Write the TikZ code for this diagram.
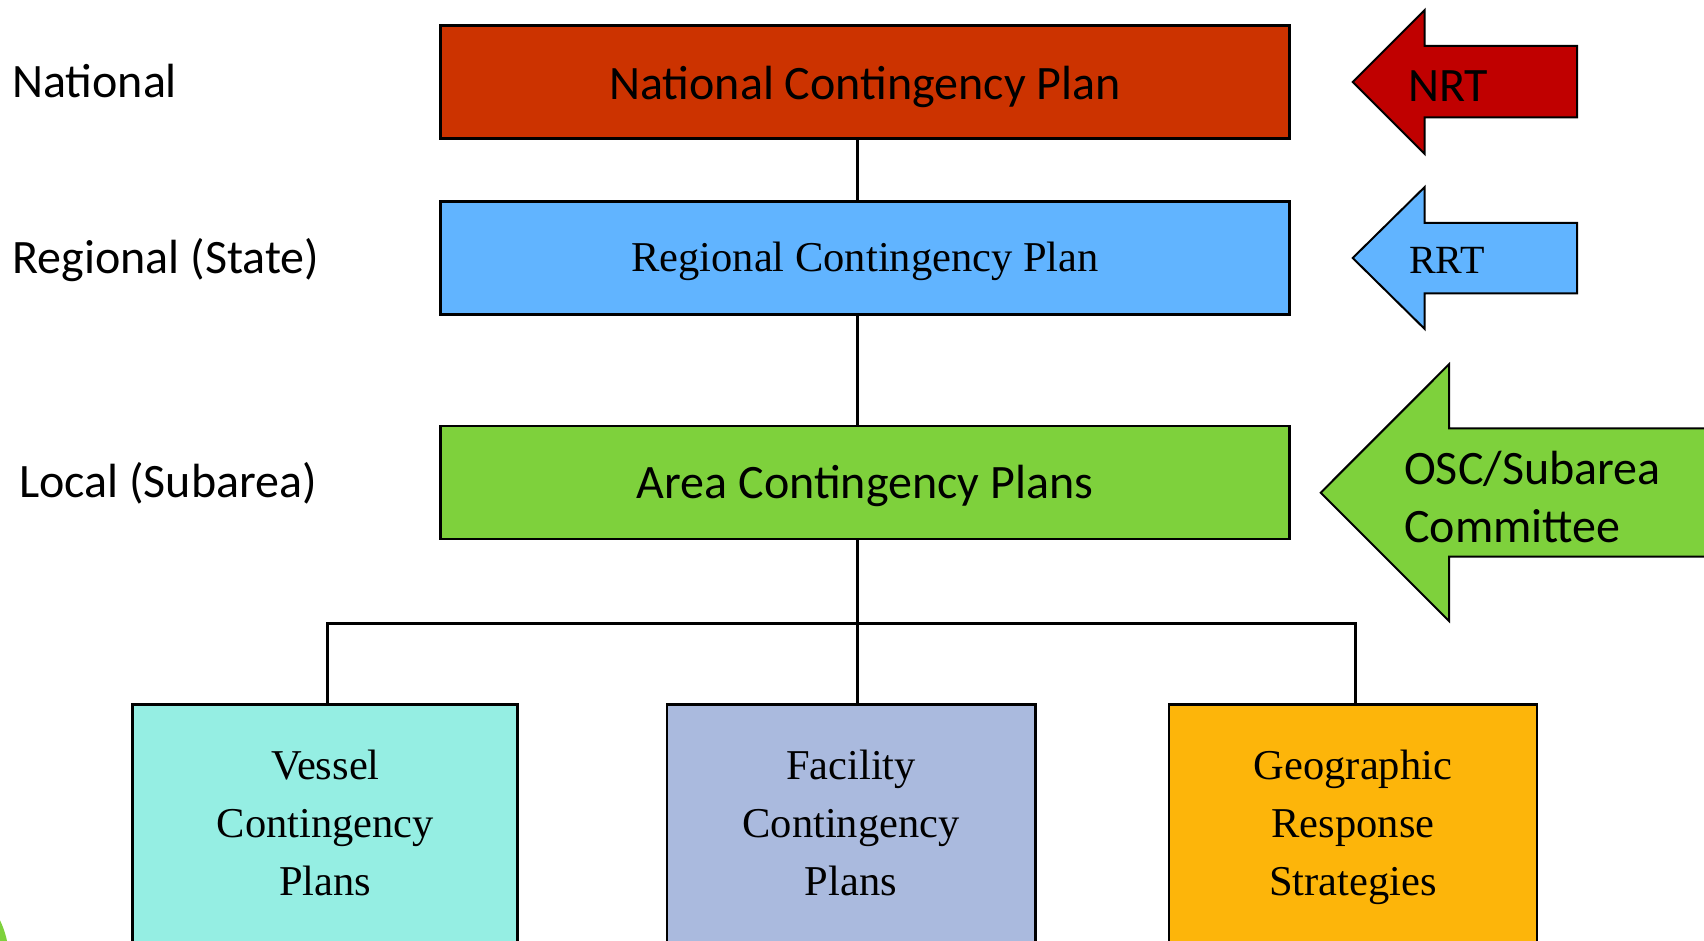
\documentclass[tikz,border=0pt]{standalone}
\usepackage{fontspec}
\setmainfont{Liberation Serif}
\newfontfamily\calfont{Carlito}
\definecolor{ncpred}{RGB}{204,51,0}
\definecolor{nrtred}{RGB}{192,0,0}
\definecolor{rblue}{RGB}{97,180,255}
\definecolor{agreen}{RGB}{126,209,60}
\definecolor{vaqua}{RGB}{149,238,227}
\definecolor{flav}{RGB}{170,186,222}
\definecolor{gorange}{RGB}{253,181,10}
\begin{document}
\begin{tikzpicture}[x=1pt,y=-1pt,
  planbox/.style={draw=black, line width=2.5pt, inner sep=0pt},
  wide/.style={planbox, minimum width=848.6pt, minimum height=112.6pt},
  tall/.style={planbox, anchor=north, minimum height=300pt},
  conn/.style={draw=black, line width=2.5pt},
  arrowshape/.style={draw=black, line width=2pt, line join=miter},
  sanslab/.style={font=\calfont\fontsize{48}{58}\selectfont, inner sep=0pt},
  serlab/.style={font=\fontsize{42.5}{58}\selectfont, inner sep=0pt}
]
\useasboundingbox (0,0) rectangle (1704,941);
\clip (0,0) rectangle (1704,941);
\fill[white] (0,0) rectangle (1704,941);

% bottom-left partial circle
\fill[agreen] (-83,960) circle (92pt);

% level labels
\node[sanslab, anchor=base west] (lnat) at (12,98) {National};
\node[sanslab, anchor=base west] (lreg) at (12.5,273) {Regional (State)};
\node[sanslab, anchor=base west] (lloc) at (19,497.5) {Local (Subarea)};

% main plan boxes
\node[wide, fill=ncpred, sanslab, text height=35pt, text depth=0pt] (ncp) at (865,82) {National Contingency Plan};
\node[wide, fill=rblue, serlab, text height=27pt, text depth=0pt] (rcp) at (865,258) {Regional Contingency Plan};
\node[wide, fill=agreen, sanslab, text height=32pt, text depth=0pt] (acp) at (865,482.5) {Area Contingency Plans};

% bottom boxes
\node[tall, fill=vaqua, minimum width=385pt] (vcp) at (324.8,703.3) {};
\node[tall, fill=flav, minimum width=368.6pt] (fcp) at (851.3,703.3) {};
\node[tall, fill=gorange, minimum width=368pt] (grs) at (1352.9,703.3) {};
\node[serlab, anchor=north, align=center] (vtxt) at (325.4,749.5) {Vessel\\Contingency\\Plans};
\node[serlab, anchor=north, align=center] (ftxt) at (851,749.5) {Facility\\Contingency\\Plans};
\node[serlab, anchor=north, align=center] (gtxt) at (1353,749.5) {Geographic\\Response\\Strategies};

% connectors
\coordinate (tx) at (857.3,0);
\coordinate (bl) at (327.3,623.3);
\coordinate (br) at (1355.3,623.3);
\draw[conn] (ncp.south -| tx) -- (rcp.north -| tx);
\draw[conn] (rcp.south -| tx) -- (acp.north -| tx);
\draw[conn] (acp.south -| tx) -- (fcp.north -| tx);
\draw[conn] (bl |- vcp.north) -- (bl) -- (br) -- (br |- grs.north);

% side arrows
\draw[arrowshape, fill=nrtred] (1352.7,82) -- (1424.7,10) -- (1424.7,46) -- (1577,46) -- (1577,117.5) -- (1424.7,117.5) -- (1424.7,154) -- cycle;
\node[sanslab, anchor=base west] (nrt) at (1408,102) {NRT};

\draw[arrowshape, fill=rblue] (1352.7,258) -- (1424.7,187) -- (1424.7,222.8) -- (1577,222.8) -- (1577,293.4) -- (1424.7,293.4) -- (1424.7,329) -- cycle;
\node[font=\fontsize{40}{48}\selectfont, inner sep=0pt, anchor=base west] (rrt) at (1409,273) {RRT};

\draw[arrowshape, fill=agreen] (1320.7,492.7) -- (1449,364.3) -- (1449,428.3) -- (1720,428.3) -- (1720,556.7) -- (1449,556.7) -- (1449,621) -- cycle;
\node[sanslab, anchor=north west, align=left] (osc) at (1404,450.5) {OSC/Subarea\\Committee};
\end{tikzpicture}
\end{document}
